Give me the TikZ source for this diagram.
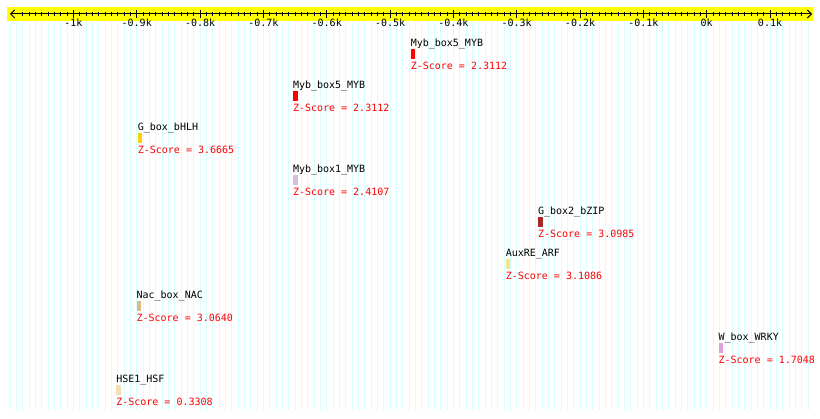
\documentclass[tikz,border=0pt]{standalone}
\usepackage{fontspec}
\setmonofont{DejaVu Sans Mono}
\usetikzlibrary{arrows.meta,positioning}
\definecolor{axisyellow}{HTML}{FFFF00}
\definecolor{gridcyan}{HTML}{D8FFFF}
\definecolor{motifred}{HTML}{FF0000}
\definecolor{motifgold}{HTML}{FFD000}
\definecolor{motifthistle}{HTML}{D8BFD8}
\definecolor{motifbrown}{HTML}{A52A2A}
\definecolor{motifkhaki}{HTML}{F0E68C}
\definecolor{motifburly}{HTML}{DEB887}
\definecolor{motifwheat}{HTML}{F5DEB3}
\definecolor{motifplum}{HTML}{DDA0DD}
\tikzset{
  pixfont/.style={font=\ttfamily\fontsize{10}{12}\selectfont},
  motifname/.style={pixfont, inner sep=0pt, anchor=base west},
  motifbar/.style={draw=none, minimum width=4.5pt, minimum height=10pt, inner sep=0pt},
  zscore/.style={pixfont, text=motifred, inner sep=0pt},
  ticklabel/.style={pixfont, inner sep=0pt, anchor=base},
}

\begin{document}
\begin{tikzpicture}[x=1pt, y=-1pt, line width=1pt]
      \def\ox{706.7}
      \def\bp{0.6333}
      \useasboundingbox (0,0) rectangle (820,419);
      % Grid
      \foreach \v in {-1100,-1090,...,160}{
          \draw[gridcyan, line width=0.8pt] ({\ox+(\v)*\bp}, 21) -- ({\ox+(\v)*\bp}, 410);
        }
      % Axis
      \fill[axisyellow] (7,7) rectangle (813,21);
      \coordinate (axisleft) at (10,14);
      \coordinate (axisright) at (812,14);
      \draw[{Straight Barb[length=4pt,width=8pt]}-{Straight Barb[length=4pt,width=8pt]}] (axisleft) -- (axisright);
      \foreach \v in {-1080,-1070,...,150}{
          \draw ({\ox+(\v)*\bp}, 12) -- ({\ox+(\v)*\bp}, 16);
        }
      \foreach \v/\lab in {-1000/-1k,-900/-0.9k,-800/-0.8k,-700/-0.7k,-600/-0.6k,-500/-0.5k,-400/-0.4k,-300/-0.3k,-200/-0.2k,-100/-0.1k,0/0k,100/0.1k}{
          \draw ({\ox+(\v)*\bp}, 10) -- ({\ox+(\v)*\bp}, 18);
          \node[ticklabel] (tick\v) at ({\ox+(\v)*\bp}, 27) {\lab};
        }
      % Motifs
      \foreach \v/\row/\txt/\z/\col [count=\i] in {
          -468/47/Myb\_box5\_MYB/2.3112/motifred,
          -654/89/Myb\_box5\_MYB/2.3112/motifred,
          -899/131/G\_box\_bHLH/3.6665/motifgold,
          -654/173/Myb\_box1\_MYB/2.4107/motifthistle,
          -267/215/G\_box2\_bZIP/3.0985/motifbrown,
          -318/257/AuxRE\_ARF/3.1086/motifkhaki,
          -901/299/Nac\_box\_NAC/3.0640/motifburly,
          18/341/W\_box\_WRKY/1.7048/motifplum,
          -933/383/HSE1\_HSF/0.3308/motifwheat}{
          \node[motifname] (name\i) at ({\ox+(\v)*\bp}, \row) {\txt};
          \node[motifbar, fill=\col, below=2pt of name\i.base west, anchor=north west] (bar\i) {};
          \node[zscore, below=10pt of bar\i.south west, anchor=base west] (score\i) {Z-Score = \z};
        }
    \end{tikzpicture}
\end{document}
